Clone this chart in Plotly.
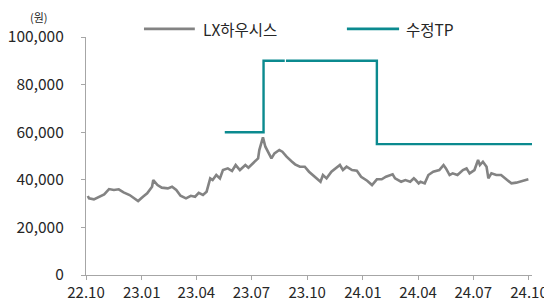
import plotly.graph_objects as go

# LX하우시스 price (원)
price_dates = [
    "2022-10-04", "2022-10-06", "2022-10-14", "2022-10-21", "2022-10-31", "2022-11-08", "2022-11-16",
    "2022-11-24", "2022-12-02", "2022-12-12", "2022-12-19", "2022-12-26", "2023-01-03", "2023-01-10",
    "2023-01-18", "2023-01-20", "2023-01-27", "2023-02-03", "2023-02-13", "2023-02-20", "2023-02-27",
    "2023-03-06", "2023-03-15", "2023-03-23", "2023-03-30", "2023-04-05", "2023-04-12", "2023-04-18",
    "2023-04-24", "2023-04-28", "2023-05-04", "2023-05-10", "2023-05-15", "2023-05-23", "2023-05-30",
    "2023-06-05", "2023-06-12", "2023-06-21", "2023-06-26", "2023-07-03", "2023-07-07", "2023-07-12",
    "2023-07-14", "2023-07-20", "2023-07-24", "2023-07-28", "2023-08-03", "2023-08-08", "2023-08-16",
    "2023-08-21", "2023-08-28", "2023-09-06", "2023-09-11", "2023-09-19", "2023-09-27", "2023-10-04",
    "2023-10-10", "2023-10-17", "2023-10-23", "2023-10-27", "2023-11-02", "2023-11-10", "2023-11-20",
    "2023-11-24", "2023-11-29", "2023-12-05", "2023-12-14", "2023-12-22", "2023-12-29", "2024-01-08",
    "2024-01-16", "2024-01-24", "2024-02-01", "2024-02-08", "2024-02-19", "2024-02-23", "2024-03-04",
    "2024-03-11", "2024-03-19", "2024-03-25", "2024-03-28", "2024-04-02", "2024-04-05", "2024-04-12",
    "2024-04-18", "2024-04-26", "2024-05-06", "2024-05-13", "2024-05-17", "2024-05-23", "2024-05-28",
    "2024-06-05", "2024-06-14", "2024-06-20", "2024-06-25", "2024-07-03", "2024-07-09", "2024-07-12",
    "2024-07-17", "2024-07-23", "2024-07-26", "2024-07-31", "2024-08-08", "2024-08-16", "2024-08-26",
    "2024-09-02", "2024-09-10", "2024-09-19", "2024-09-27", "2024-09-30",
]
price_values = [
    33200, 32200, 31800, 32600, 33900, 36100, 35700,
    36000, 34700, 33600, 32200, 31100, 32900, 34300,
    37100, 39900, 37800, 36700, 36400, 37100, 35700,
    33300, 32200, 33300, 32900, 34500, 33600, 35000,
    40600, 39900, 42000, 40600, 44100, 44800, 43700,
    46200, 44100, 46200, 45100, 46900, 47600, 49000,
    52500, 57800, 53900, 51800, 49000, 51100, 52500,
    51800, 49700, 47600, 46500, 45500, 45500, 43400,
    42000, 40600, 39200, 42000, 40600, 43400, 45200,
    46200, 44100, 45500, 44100, 43800, 41300, 39600,
    37800, 40200, 40200, 41300, 42300, 40600, 39200,
    39900, 39200, 40600, 39900, 38500, 39200, 38500,
    42000, 43400, 44100, 46200, 44800, 42000, 42700,
    42000, 44100, 44800, 42700, 44100, 48300, 46200,
    47600, 45500, 40600, 42700, 42000, 42000, 39900,
    38500, 38800, 39500, 39900, 40200,
]

# 수정TP (target price, 원)
tp_dates = ["2023-05-18", "2023-07-21", "2023-08-25", "2023-08-26", "2023-08-27", "2024-01-24", "2024-10-06"]
tp_values = [60000, 90000, 90000, None, 90000, 55000, 55000]

tick_dates = ["2022-10-01", "2023-01-01", "2023-04-01", "2023-07-01", "2023-10-01",
              "2024-01-01", "2024-04-01", "2024-07-01", "2024-10-01"]
tick_labels = ["22.10", "23.01", "23.04", "23.07", "23.10", "24.01", "24.04", "24.07", "24.10"]
y_ticks = [0, 20000, 40000, 60000, 80000, 100000]

series_names = ["LX하우시스", "수정TP"]
gray = "#838383"
teal = "#0B8A8F"
axis_col = "#A6A6A6"
text_col = "#262626"
FONT = "Noto Sans CJK KR"

fig = go.Figure()
fig.add_trace(go.Scatter(x=price_dates, y=price_values, mode="lines", name=series_names[0],
                         line=dict(color=gray, width=2.6), showlegend=False))
fig.add_trace(go.Scatter(x=tp_dates, y=tp_values, mode="lines", name=series_names[1],
                         line=dict(color=teal, width=2.4, shape="hv"), connectgaps=False,
                         showlegend=False))

# custom legend (long line samples like the reference)
legend_y = 1.034
fig.add_shape(type="line", xref="paper", yref="paper", x0=0.130, x1=0.244, y0=legend_y, y1=legend_y,
              line=dict(color=gray, width=2.6))
fig.add_shape(type="line", xref="paper", yref="paper", x0=0.585, x1=0.702, y0=legend_y, y1=legend_y,
              line=dict(color=teal, width=2.6))
fig.add_annotation(xref="paper", yref="paper", x=0.257, y=legend_y, text=series_names[0],
                   showarrow=False, xanchor="left", yanchor="middle",
                   font=dict(family=FONT, size=15.5, color=text_col))
fig.add_annotation(xref="paper", yref="paper", x=0.713, y=legend_y, text=series_names[1],
                   showarrow=False, xanchor="left", yanchor="middle",
                   font=dict(family=FONT, size=15.5, color=text_col))
fig.add_annotation(xref="paper", yref="paper", x=-0.105, y=1.086, text="(원)",
                   showarrow=False, xanchor="center", yanchor="middle", borderpad=0,
                   font=dict(family=FONT, size=11, color=text_col))

# the page body adds an 8px offset, so the figure is sized to the remaining area
fig.update_layout(
    width=544, height=296,
    margin=dict(l=78, r=20, t=29, b=29, autoexpand=False),
    paper_bgcolor="white", plot_bgcolor="white",
    font=dict(family=FONT, size=15, color=text_col),
    showlegend=False,
)
fig.update_xaxes(
    type="date", range=["2022-10-01", "2024-10-06"],
    tickvals=tick_dates, ticktext=tick_labels, automargin=False,
    showgrid=False, zeroline=False,
    showline=True, linecolor=axis_col, linewidth=1.3,
    ticks="outside", ticklen=4, tickcolor=axis_col, tickwidth=1.3,
    tickfont=dict(family=FONT, size=15, color=text_col),
)
fig.update_yaxes(
    range=[0, 100000], tickvals=y_ticks, tickformat=",", automargin=False,
    showgrid=False, zeroline=False,
    showline=True, linecolor=axis_col, linewidth=1.3,
    ticks="outside", ticklen=4, tickcolor=axis_col, tickwidth=1.3,
    tickfont=dict(family=FONT, size=15.5, color=text_col),
    ticklabelstandoff=14,
)

fig.write_html("out.html")
